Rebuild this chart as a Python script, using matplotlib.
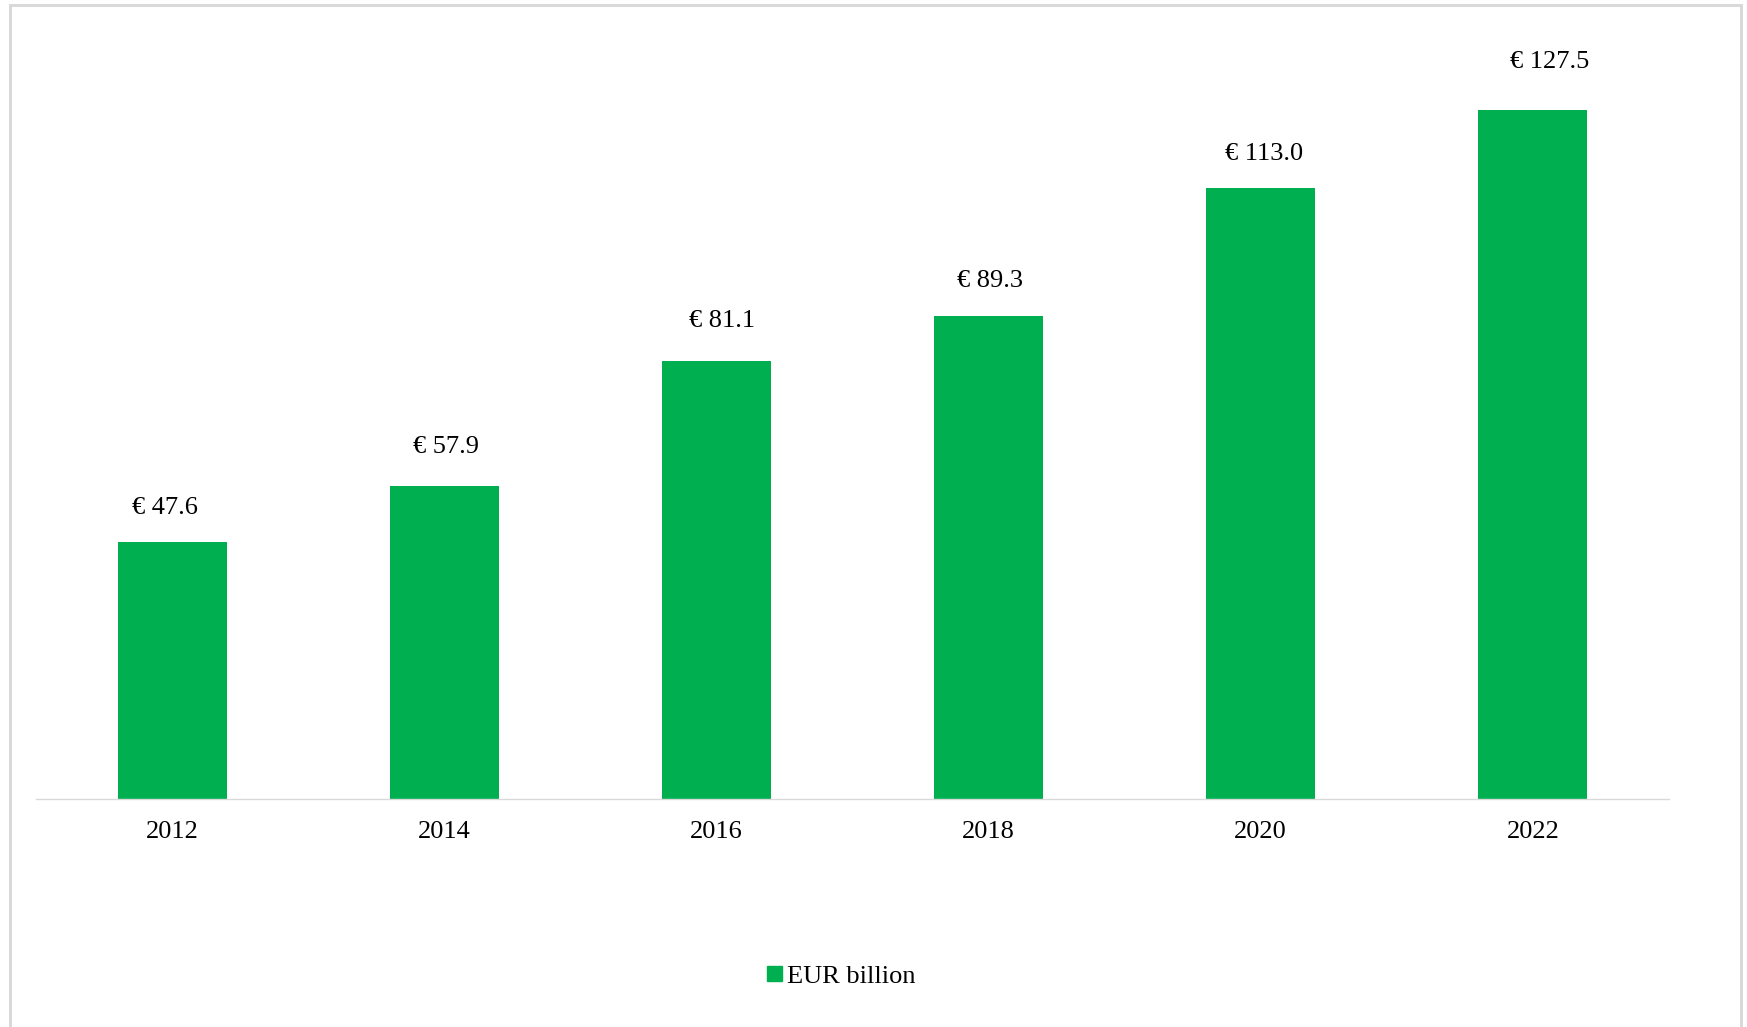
import matplotlib
matplotlib.use("Agg")
import matplotlib.pyplot as plt
from matplotlib.lines import Line2D
from matplotlib.patches import Patch

years = ["2012", "2014", "2016", "2018", "2020", "2022"]
values = [47.6, 57.9, 81.1, 89.3, 113.0, 127.5]
labels = ["€ 47.6", "€ 57.9", "€ 81.1", "€ 89.3", "€ 113.0", "€ 127.5"]
series_name = "EUR billion"

# label offsets in pixels (dx, dy) relative to bar top centre
label_dx = [-7.5, 2, 5.5, 1.5, 3, 16.5]
label_dy = [34, 39.5, 40, 35, 34, 48]

W, H, DPI = 1747, 1027, 100
plt.rcParams['font.family'] = ['Liberation Serif', 'DejaVu Serif']
fig = plt.figure(figsize=(W / DPI, H / DPI), dpi=DPI)

green = "#00B050"
grey = "#D9D9D9"

ax = fig.add_axes([36 / W, 1 - 799 / H, (1669 - 36) / W, (799 - 42.4) / H])
x = list(range(len(years)))
bars = ax.bar(x, values, width=0.4, color=green, label=series_name, zorder=2)
ax.set_xlim(-0.5, len(years) - 0.5)
ax.set_ylim(0, 140)
ax.set_xticks(x)
ax.set_xticklabels(years, fontsize=19, color="#000000")
ax.tick_params(axis='x', length=0, pad=16)
ax.set_yticks([])
for s in ["top", "left", "right"]:
    ax.spines[s].set_visible(False)
ax.spines["bottom"].set_color(grey)
ax.spines["bottom"].set_linewidth(1.0)

pt = 72 / DPI
for xi, v, lab, dx, dy in zip(x, values, labels, label_dx, label_dy):
    ax.annotate(lab, (xi, v), xytext=(dx * pt, dy * pt), textcoords="offset points",
                ha="center", va="center", fontsize=19, color="#000000")

handle = Patch(facecolor=green, edgecolor=green)
fig.legend([handle], [series_name], loc="center", bbox_to_anchor=(841 / W, 1 - 977 / H),
           frameon=False, fontsize=19, handlelength=0.57, handleheight=0.5,
           handletextpad=0.2, borderpad=0, borderaxespad=0)

# outer chart border (left, top, right)
lw = 3 * pt
fig.add_artist(Line2D([9.5 / W, 9.5 / W], [0, 1 - 5 / H], color=grey, lw=lw, transform=fig.transFigure))
fig.add_artist(Line2D([9.5 / W, 1740.5 / W], [1 - 5 / H, 1 - 5 / H], color=grey, lw=lw, transform=fig.transFigure))
fig.add_artist(Line2D([1740.5 / W, 1740.5 / W], [0, 1 - 5 / H], color=grey, lw=lw, transform=fig.transFigure))

fig.savefig("out.png", dpi=DPI, facecolor="white")
